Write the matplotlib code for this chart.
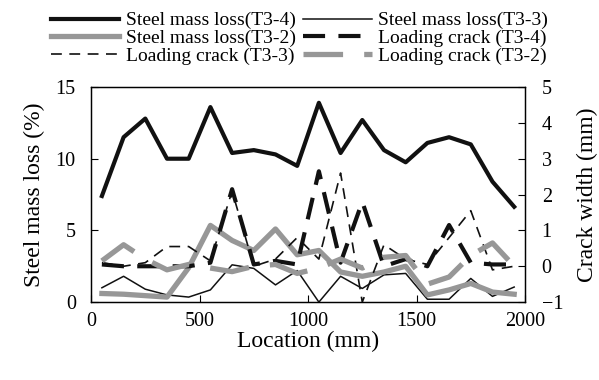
import matplotlib.pyplot as plt
import numpy as np

plt.rcParams['font.family'] = ['Liberation Serif', 'DejaVu Serif']

# location along the beam (mm)
location = [50, 150, 250, 350, 450, 550, 650, 750, 850, 950,
            1050, 1150, 1250, 1350, 1450, 1550, 1650, 1750, 1850, 1950]

# steel mass loss (%)
steel_t34 = [7.4, 11.5, 12.8, 10.0, 10.0, 13.6, 10.4, 10.6, 10.3, 9.5,
             13.9, 10.4, 12.7, 10.6, 9.75, 11.1, 11.5, 11.0, 8.4, 6.65]
steel_t33 = [1.0, 1.8, 0.9, 0.5, 0.35, 0.85, 2.6, 2.35, 1.2, 2.2,
             0.0, 1.8, 0.95, 1.9, 2.0, 0.2, 0.2, 1.65, 0.4, 1.05]
steel_t32 = [0.6, 0.55, 0.45, 0.35, 2.4, 5.35, 4.3, 3.6, 5.1, 3.3,
             3.6, 2.1, 1.8, 2.1, 2.5, 0.5, 0.85, 1.3, 0.7, 0.55]

# loading crack width (mm)
crack_t34 = [0.05, 0.0, 0.0, 0.0, 0.0, 0.1, 2.15, 0.05, 0.15, 0.05,
             2.65, 0.1, 1.8, 0.0, 0.2, 0.0, 1.15, 0.1, 0.05, 0.05]
crack_t33 = [0.1, 0.0, 0.1, 0.55, 0.55, 0.15, 2.1, 0.0, 0.2, 0.8,
             0.2, 2.6, -1.0, 0.6, 0.2, 0.05, 0.8, 1.55, -0.1, 0.0]
crack_t32 = [0.15, 0.6, 0.2, -0.1, 0.05, -0.05, -0.15, 0.0, 0.05, -0.2,
             -0.05, 0.2, -0.05, 0.25, 0.3, -0.5, -0.3, 0.3, 0.65, 0.0]

grey = '#979797'

fig, ax = plt.subplots(figsize=(5.99, 3.80), dpi=100)
fig.subplots_adjust(left=0.152, right=0.8765, bottom=0.205, top=0.771)
ax2 = ax.twinx()

l1, = ax.plot(location, steel_t34, color='#111111', lw=3.0, label='Steel mass loss(T3-4)')
l2, = ax.plot(location, steel_t33, color='#111111', lw=1.1, label='Steel mass loss(T3-3)')
l3, = ax.plot(location, steel_t32, color=grey, lw=3.8, label='Steel mass loss(T3-2)')

l4, = ax2.plot(location, crack_t34, color='#111111', lw=3.0, linestyle=(0, (5.3, 3.2)),
               label='Loading crack (T3-4)')
l5, = ax2.plot(location, crack_t33, color='#111111', lw=1.2, linestyle=(0, (6.5, 4.5)),
               label='Loading crack (T3-3)')
l6, = ax2.plot(location, crack_t32, color=grey, lw=3.8, linestyle=(0, (7.5, 4.0)),
               label='Loading crack (T3-2)')

ax.set_xlim(0, 2000)
ax.set_ylim(0, 15)
ax2.set_ylim(-1, 5)
ax.set_xticks([0, 500, 1000, 1500, 2000])
ax.set_yticks([0, 5, 10, 15])
ax2.set_yticks([-1, 0, 1, 2, 3, 4, 5])

ax.set_xlabel('Location (mm)', fontsize=17, labelpad=0)
ax.set_ylabel('Steel mass loss (%)', fontsize=17, labelpad=8)
ax2.set_ylabel('Crack width (mm)', fontsize=17, labelpad=10)

ax.tick_params(axis='x', direction='in', length=5, labelsize=14.5, pad=7)
ax.tick_params(axis='y', direction='in', length=5, labelsize=14.5, pad=11)
ax2.tick_params(direction='in', length=5, labelsize=14.5, pad=12)

for a in (ax, ax2):
    for s in a.spines.values():
        s.set_linewidth(0.9)

fig.legend(handles=[l1, l3, l5, l2, l4, l6], ncol=2, loc='upper center',
           bbox_to_anchor=(0.5, 1.005), frameon=False, fontsize=14,
           handlelength=3.5, handletextpad=0.35, columnspacing=0.4,
           labelspacing=0.0, borderpad=0.2)

plt.savefig('out.png', dpi=100)
